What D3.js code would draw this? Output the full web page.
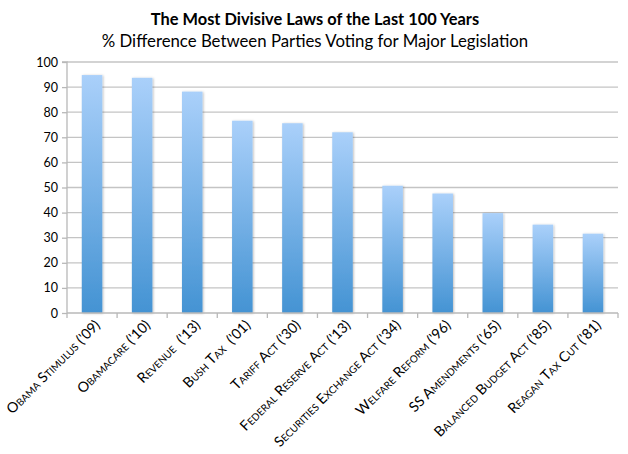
<!DOCTYPE html>
<html><head><meta charset="utf-8">
<script src="https://cdn.jsdelivr.net/npm/d3@7"></script>
<style>
body{margin:0;background:#fff;}
svg{display:block;}
</style></head>
<body>
<svg id="chart" width="628" height="454"></svg>
<script>
const categories = ["Obama Stimulus ('09)", "Obamacare ('10)", "Revenue  ('13)", "Bush Tax  ('01)", "Tariff Act ('30)", "Federal Reserve Act ('13)", "Securities Exchange Act ('34)", "Welfare Reform ('96)", "SS Amendments ('65)", "Balanced Budget Act ('85)", "Reagan Tax Cut ('81)"];
const values = [94.8, 93.7, 88.2, 76.6, 75.6, 72.0, 50.7, 47.6, 39.8, 35.2, 31.6];
const yTicks = [0, 10, 20, 30, 40, 50, 60, 70, 80, 90, 100];
const title = "The Most Divisive Laws of the Last 100 Years";
const subtitle = "% Difference Between Parties Voting for Major Legislation";

const svg = d3.select("#chart");
const m = {left: 67, right: 10, top: 62, bottom: 141};
const W = 628, H = 454;
const x = d3.scaleBand().domain(categories).range([m.left, W - m.right]).paddingInner(0.59).paddingOuter(0.295);
const xSlot = d3.scaleBand().domain(categories).range([m.left, W - m.right]);
const y = d3.scaleLinear().domain([0, 100]).range([H - m.bottom, m.top]);

const defs = svg.append("defs");
const grad = defs.append("linearGradient").attr("id", "barGrad").attr("x1", 0).attr("y1", 0).attr("x2", 0).attr("y2", 1);
grad.append("stop").attr("offset", "0%").attr("stop-color", "#aad0fa");
grad.append("stop").attr("offset", "100%").attr("stop-color", "#4493d3");
const f = defs.append("filter").attr("id", "shadow").attr("x", "-20%").attr("y", "-5%").attr("width", "150%").attr("height", "115%");
f.append("feDropShadow").attr("dx", 1).attr("dy", 0.5).attr("stdDeviation", 0.8).attr("flood-color", "#000").attr("flood-opacity", 0.25);

svg.append("text").attr("x", 315).attr("y", 25).attr("text-anchor", "middle")
  .attr("font-family", "Lato, sans-serif").attr("font-weight", "bold").attr("font-size", 16.4).attr("fill", "#000").text(title);
svg.append("text").attr("x", 315).attr("y", 47).attr("text-anchor", "middle")
  .attr("font-family", "Lato, sans-serif").attr("font-size", 16.8).attr("fill", "#000").text(subtitle);

// gridlines
svg.append("g").selectAll("line").data(yTicks.filter(d => d > 0)).join("line")
  .attr("x1", m.left).attr("x2", W - m.right)
  .attr("y1", d => y(d)).attr("y2", d => y(d))
  .attr("stroke", "#c4c4c4").attr("stroke-width", 1.3);

// y axis
const yAxis = d3.axisLeft(y).tickValues(yTicks).tickSize(5).tickPadding(4);
const gy = svg.append("g").attr("transform", `translate(${m.left},0)`).call(yAxis);
gy.select(".domain").attr("stroke", "#b8b8b8").attr("stroke-width", 1.3).attr("d", `M-5,${y(100)}H0V${y(0)}`);
gy.selectAll(".tick line").attr("stroke", "#b8b8b8").attr("stroke-width", 1.3);
gy.selectAll(".tick text").attr("font-family", "Lato, sans-serif").attr("font-size", 12.5).attr("fill", "#000");

// bars
svg.append("g").selectAll("rect").data(values).join("rect")
  .attr("x", (d, i) => x(categories[i]))
  .attr("y", d => y(d))
  .attr("width", x.bandwidth())
  .attr("height", d => y(0) - y(d))
  .attr("fill", "url(#barGrad)")
  .attr("filter", "url(#shadow)");

// x axis
const bounds = categories.map(c => xSlot(c)).concat([W - m.right]);
const gx = svg.append("g");
gx.append("line").attr("x1", m.left).attr("x2", W - m.right).attr("y1", y(0)).attr("y2", y(0))
  .attr("stroke", "#b8b8b8").attr("stroke-width", 1.3);
gx.selectAll("line.tk").data(bounds).join("line").attr("class", "tk")
  .attr("x1", d => d).attr("x2", d => d).attr("y1", y(0)).attr("y2", y(0) + 5)
  .attr("stroke", "#b8b8b8").attr("stroke-width", 1.3);

gx.selectAll("text").data(categories).join("text")
  .attr("transform", d => `translate(${x(d) + x.bandwidth() / 2 + 9},${y(0) + 13}) rotate(-45)`)
  .attr("text-anchor", "end")
  .attr("font-family", "Lato, sans-serif").attr("font-size", 14.2)
  .attr("font-variant", "small-caps")
  .attr("fill", "#000")
  .attr("xml:space", "preserve")
  .style("white-space", "pre")
  .text(d => d);
</script>
</body></html>
